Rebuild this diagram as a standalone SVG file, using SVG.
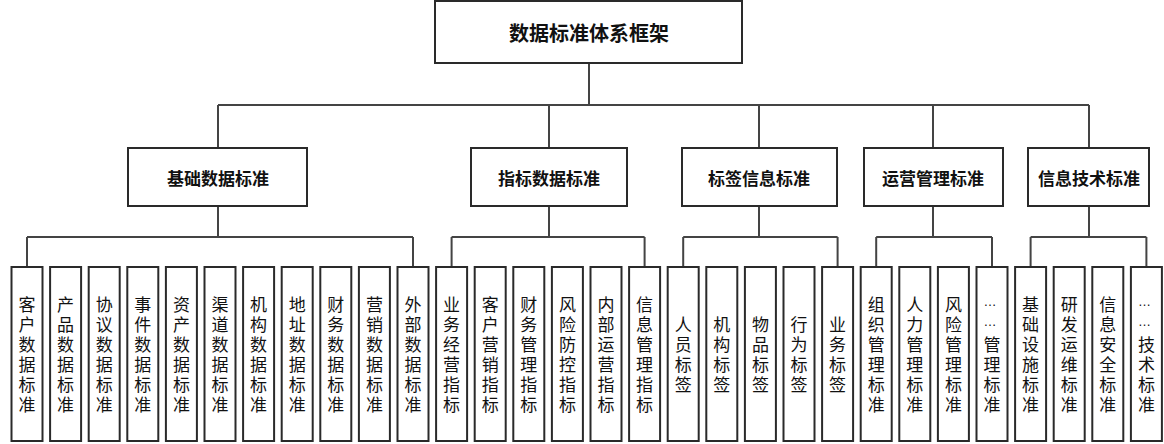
<svg xmlns="http://www.w3.org/2000/svg" width="1164" height="444" viewBox="0 0 1164 444">
<style>
.box{fill:#fff;stroke:#2a2a2a;stroke-width:2}
.con{fill:none;stroke:#444;stroke-width:2}
.t0{font-family:"Noto Sans CJK SC","Liberation Sans",sans-serif;font-weight:bold;font-size:20px;fill:#111;text-anchor:middle;dominant-baseline:central}
.t1{font-family:"Noto Sans CJK SC","Liberation Sans",sans-serif;font-weight:bold;font-size:17px;fill:#111;text-anchor:middle;dominant-baseline:central}
.t2{font-family:"Liberation Sans","Noto Sans CJK SC",sans-serif;font-size:17px;fill:#111;text-anchor:middle;dominant-baseline:central}
.d{font-size:13px}
</style>
<rect width="1164" height="444" fill="#fff"/>
<g id="connectors">
<path class="con" d="M589 63V105M218 105H1089M218 105V148M549 105V148M759 105V148M933 105V148M1089 105V148"/>
<path class="con" d="M218 206V237M27 237H413M27 237V267M413 237V267"/>
<path class="con" d="M549 206V237M451.6 237H644.6M451.6 237V267M644.6 237V267"/>
<path class="con" d="M759 206V237M683.2 237H837.6M683.2 237V267M837.6 237V267"/>
<path class="con" d="M933 206V237M876.2 237H992M876.2 237V267M992 237V267"/>
<path class="con" d="M1089 206V237M1030.6 237H1146.4M1030.6 237V267M1146.4 237V267"/>
</g>
<g id="root"><rect class="box" x="435" y="1" width="307" height="62"/><text class="t0" x="589" y="32">数据标准体系框架</text></g>
<g id="n-basic"><rect class="box" x="128" y="148" width="179" height="58"/><text class="t1" x="218" y="177">基础数据标准</text></g>
<g id="n-index"><rect class="box" x="471" y="148" width="156" height="58"/><text class="t1" x="549" y="177">指标数据标准</text></g>
<g id="n-tag"><rect class="box" x="682" y="148" width="155" height="58"/><text class="t1" x="759" y="177">标签信息标准</text></g>
<g id="n-ops"><rect class="box" x="864" y="148" width="139" height="58"/><text class="t1" x="933" y="177">运营管理标准</text></g>
<g id="n-it"><rect class="box" x="1028" y="148" width="121" height="58"/><text class="t1" x="1089" y="177">信息技术标准</text></g>

<g id="l0"><rect class="box" x="11.5" y="267" width="31" height="174"/><text class="t2"><tspan x="27" y="305">客</tspan><tspan x="27" y="325">户</tspan><tspan x="27" y="345">数</tspan><tspan x="27" y="365">据</tspan><tspan x="27" y="385">标</tspan><tspan x="27" y="405">准</tspan></text></g>
<g id="l1"><rect class="box" x="50.1" y="267" width="31" height="174"/><text class="t2"><tspan x="65.6" y="305">产</tspan><tspan x="65.6" y="325">品</tspan><tspan x="65.6" y="345">数</tspan><tspan x="65.6" y="365">据</tspan><tspan x="65.6" y="385">标</tspan><tspan x="65.6" y="405">准</tspan></text></g>
<g id="l2"><rect class="box" x="88.7" y="267" width="31" height="174"/><text class="t2"><tspan x="104.2" y="305">协</tspan><tspan x="104.2" y="325">议</tspan><tspan x="104.2" y="345">数</tspan><tspan x="104.2" y="365">据</tspan><tspan x="104.2" y="385">标</tspan><tspan x="104.2" y="405">准</tspan></text></g>
<g id="l3"><rect class="box" x="127.3" y="267" width="31" height="174"/><text class="t2"><tspan x="142.8" y="305">事</tspan><tspan x="142.8" y="325">件</tspan><tspan x="142.8" y="345">数</tspan><tspan x="142.8" y="365">据</tspan><tspan x="142.8" y="385">标</tspan><tspan x="142.8" y="405">准</tspan></text></g>
<g id="l4"><rect class="box" x="165.9" y="267" width="31" height="174"/><text class="t2"><tspan x="181.4" y="305">资</tspan><tspan x="181.4" y="325">产</tspan><tspan x="181.4" y="345">数</tspan><tspan x="181.4" y="365">据</tspan><tspan x="181.4" y="385">标</tspan><tspan x="181.4" y="405">准</tspan></text></g>
<g id="l5"><rect class="box" x="204.5" y="267" width="31" height="174"/><text class="t2"><tspan x="220" y="305">渠</tspan><tspan x="220" y="325">道</tspan><tspan x="220" y="345">数</tspan><tspan x="220" y="365">据</tspan><tspan x="220" y="385">标</tspan><tspan x="220" y="405">准</tspan></text></g>
<g id="l6"><rect class="box" x="243.1" y="267" width="31" height="174"/><text class="t2"><tspan x="258.6" y="305">机</tspan><tspan x="258.6" y="325">构</tspan><tspan x="258.6" y="345">数</tspan><tspan x="258.6" y="365">据</tspan><tspan x="258.6" y="385">标</tspan><tspan x="258.6" y="405">准</tspan></text></g>
<g id="l7"><rect class="box" x="281.7" y="267" width="31" height="174"/><text class="t2"><tspan x="297.2" y="305">地</tspan><tspan x="297.2" y="325">址</tspan><tspan x="297.2" y="345">数</tspan><tspan x="297.2" y="365">据</tspan><tspan x="297.2" y="385">标</tspan><tspan x="297.2" y="405">准</tspan></text></g>
<g id="l8"><rect class="box" x="320.3" y="267" width="31" height="174"/><text class="t2"><tspan x="335.8" y="305">财</tspan><tspan x="335.8" y="325">务</tspan><tspan x="335.8" y="345">数</tspan><tspan x="335.8" y="365">据</tspan><tspan x="335.8" y="385">标</tspan><tspan x="335.8" y="405">准</tspan></text></g>
<g id="l9"><rect class="box" x="358.9" y="267" width="31" height="174"/><text class="t2"><tspan x="374.4" y="305">营</tspan><tspan x="374.4" y="325">销</tspan><tspan x="374.4" y="345">数</tspan><tspan x="374.4" y="365">据</tspan><tspan x="374.4" y="385">标</tspan><tspan x="374.4" y="405">准</tspan></text></g>
<g id="l10"><rect class="box" x="397.5" y="267" width="31" height="174"/><text class="t2"><tspan x="413" y="305">外</tspan><tspan x="413" y="325">部</tspan><tspan x="413" y="345">数</tspan><tspan x="413" y="365">据</tspan><tspan x="413" y="385">标</tspan><tspan x="413" y="405">准</tspan></text></g>
<g id="l11"><rect class="box" x="436.1" y="267" width="31" height="174"/><text class="t2"><tspan x="451.6" y="305">业</tspan><tspan x="451.6" y="325">务</tspan><tspan x="451.6" y="345">经</tspan><tspan x="451.6" y="365">营</tspan><tspan x="451.6" y="385">指</tspan><tspan x="451.6" y="405">标</tspan></text></g>
<g id="l12"><rect class="box" x="474.7" y="267" width="31" height="174"/><text class="t2"><tspan x="490.2" y="305">客</tspan><tspan x="490.2" y="325">户</tspan><tspan x="490.2" y="345">营</tspan><tspan x="490.2" y="365">销</tspan><tspan x="490.2" y="385">指</tspan><tspan x="490.2" y="405">标</tspan></text></g>
<g id="l13"><rect class="box" x="513.3" y="267" width="31" height="174"/><text class="t2"><tspan x="528.8" y="305">财</tspan><tspan x="528.8" y="325">务</tspan><tspan x="528.8" y="345">管</tspan><tspan x="528.8" y="365">理</tspan><tspan x="528.8" y="385">指</tspan><tspan x="528.8" y="405">标</tspan></text></g>
<g id="l14"><rect class="box" x="551.9" y="267" width="31" height="174"/><text class="t2"><tspan x="567.4" y="305">风</tspan><tspan x="567.4" y="325">险</tspan><tspan x="567.4" y="345">防</tspan><tspan x="567.4" y="365">控</tspan><tspan x="567.4" y="385">指</tspan><tspan x="567.4" y="405">标</tspan></text></g>
<g id="l15"><rect class="box" x="590.5" y="267" width="31" height="174"/><text class="t2"><tspan x="606" y="305">内</tspan><tspan x="606" y="325">部</tspan><tspan x="606" y="345">运</tspan><tspan x="606" y="365">营</tspan><tspan x="606" y="385">指</tspan><tspan x="606" y="405">标</tspan></text></g>
<g id="l16"><rect class="box" x="629.1" y="267" width="31" height="174"/><text class="t2"><tspan x="644.6" y="305">信</tspan><tspan x="644.6" y="325">息</tspan><tspan x="644.6" y="345">管</tspan><tspan x="644.6" y="365">理</tspan><tspan x="644.6" y="385">指</tspan><tspan x="644.6" y="405">标</tspan></text></g>
<g id="l17"><rect class="box" x="667.7" y="267" width="31" height="174"/><text class="t2"><tspan x="683.2" y="325">人</tspan><tspan x="683.2" y="345">员</tspan><tspan x="683.2" y="365">标</tspan><tspan x="683.2" y="385">签</tspan></text></g>
<g id="l18"><rect class="box" x="706.3" y="267" width="31" height="174"/><text class="t2"><tspan x="721.8" y="325">机</tspan><tspan x="721.8" y="345">构</tspan><tspan x="721.8" y="365">标</tspan><tspan x="721.8" y="385">签</tspan></text></g>
<g id="l19"><rect class="box" x="744.9" y="267" width="31" height="174"/><text class="t2"><tspan x="760.4" y="325">物</tspan><tspan x="760.4" y="345">品</tspan><tspan x="760.4" y="365">标</tspan><tspan x="760.4" y="385">签</tspan></text></g>
<g id="l20"><rect class="box" x="783.5" y="267" width="31" height="174"/><text class="t2"><tspan x="799" y="325">行</tspan><tspan x="799" y="345">为</tspan><tspan x="799" y="365">标</tspan><tspan x="799" y="385">签</tspan></text></g>
<g id="l21"><rect class="box" x="822.1" y="267" width="31" height="174"/><text class="t2"><tspan x="837.6" y="325">业</tspan><tspan x="837.6" y="345">务</tspan><tspan x="837.6" y="365">标</tspan><tspan x="837.6" y="385">签</tspan></text></g>
<g id="l22"><rect class="box" x="860.7" y="267" width="31" height="174"/><text class="t2"><tspan x="876.2" y="305">组</tspan><tspan x="876.2" y="325">织</tspan><tspan x="876.2" y="345">管</tspan><tspan x="876.2" y="365">理</tspan><tspan x="876.2" y="385">标</tspan><tspan x="876.2" y="405">准</tspan></text></g>
<g id="l23"><rect class="box" x="899.3" y="267" width="31" height="174"/><text class="t2"><tspan x="914.8" y="305">人</tspan><tspan x="914.8" y="325">力</tspan><tspan x="914.8" y="345">管</tspan><tspan x="914.8" y="365">理</tspan><tspan x="914.8" y="385">标</tspan><tspan x="914.8" y="405">准</tspan></text></g>
<g id="l24"><rect class="box" x="937.9" y="267" width="31" height="174"/><text class="t2"><tspan x="953.4" y="305">风</tspan><tspan x="953.4" y="325">险</tspan><tspan x="953.4" y="345">管</tspan><tspan x="953.4" y="365">理</tspan><tspan x="953.4" y="385">标</tspan><tspan x="953.4" y="405">准</tspan></text></g>
<g id="l25"><rect class="box" x="976.5" y="267" width="31" height="174"/><text class="t2"><tspan class="d" x="990" y="301">…</tspan><tspan class="d" x="990" y="321">…</tspan><tspan x="992" y="345">管</tspan><tspan x="992" y="365">理</tspan><tspan x="992" y="385">标</tspan><tspan x="992" y="405">准</tspan></text></g>
<g id="l26"><rect class="box" x="1015.1" y="267" width="31" height="174"/><text class="t2"><tspan x="1030.6" y="305">基</tspan><tspan x="1030.6" y="325">础</tspan><tspan x="1030.6" y="345">设</tspan><tspan x="1030.6" y="365">施</tspan><tspan x="1030.6" y="385">标</tspan><tspan x="1030.6" y="405">准</tspan></text></g>
<g id="l27"><rect class="box" x="1053.7" y="267" width="31" height="174"/><text class="t2"><tspan x="1069.2" y="305">研</tspan><tspan x="1069.2" y="325">发</tspan><tspan x="1069.2" y="345">运</tspan><tspan x="1069.2" y="365">维</tspan><tspan x="1069.2" y="385">标</tspan><tspan x="1069.2" y="405">准</tspan></text></g>
<g id="l28"><rect class="box" x="1092.3" y="267" width="31" height="174"/><text class="t2"><tspan x="1107.8" y="305">信</tspan><tspan x="1107.8" y="325">息</tspan><tspan x="1107.8" y="345">安</tspan><tspan x="1107.8" y="365">全</tspan><tspan x="1107.8" y="385">标</tspan><tspan x="1107.8" y="405">准</tspan></text></g>
<g id="l29"><rect class="box" x="1130.9" y="267" width="31" height="174"/><text class="t2"><tspan class="d" x="1144.4" y="301">…</tspan><tspan class="d" x="1144.4" y="321">…</tspan><tspan x="1146.4" y="345">技</tspan><tspan x="1146.4" y="365">术</tspan><tspan x="1146.4" y="385">标</tspan><tspan x="1146.4" y="405">准</tspan></text></g>
</svg>
